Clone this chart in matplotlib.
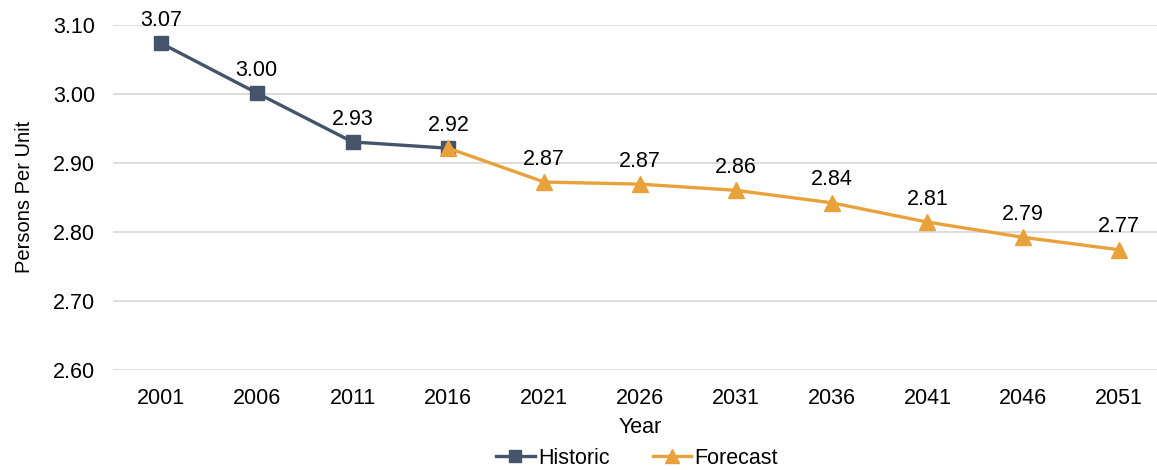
import matplotlib.pyplot as plt
from matplotlib.lines import Line2D

plt.rcParams['font.family'] = ['Liberation Sans', 'DejaVu Sans']

years = ['2001', '2006', '2011', '2016', '2021', '2026', '2031', '2036', '2041', '2046', '2051']
historic = [3.073, 3.001, 2.930, 2.921]
forecast = [2.921, 2.872, 2.869, 2.860, 2.842, 2.814, 2.792, 2.774]
y_ticks = [2.60, 2.70, 2.80, 2.90, 3.00, 3.10]

hist_color = '#44546A'
fc_color = '#E9A13B'
fs = 15.5

W, H = 1157, 470
fig = plt.figure(figsize=(W / 100, H / 100), dpi=100)
ax_w = 1167 - 113
ax = fig.add_axes([113 / W, 100 / H, ax_w / W, 345.5 / H])

x = list(range(len(years)))
hist_x = x[:len(historic)]
fc_x = x[len(historic) - 1:]

ax.plot(hist_x, historic, color=hist_color, lw=2.4, marker='s', ms=10, zorder=3)
ax.plot(fc_x, forecast, color=fc_color, lw=2.4, marker='^', ms=11, zorder=4)

labels = list(zip(hist_x, historic)) + list(zip(fc_x[1:], forecast[1:]))
for xi, v in labels:
    ax.annotate(f'{v:.2f}', (xi, v), xytext=(0, 12.5), textcoords='offset points',
                ha='center', va='baseline', fontsize=fs, color='black')

ax.set_xlim(-0.5, len(years) - 0.5)
ax.set_ylim(2.60, 3.10)
ax.set_yticks(y_ticks)
ax.set_yticklabels([f'{t:.2f}' for t in y_ticks])
ax.set_xticks(x)
ax.set_xticklabels(years)
ax.tick_params(axis='both', length=0, labelsize=fs)
ax.tick_params(axis='x', pad=13)
ax.tick_params(axis='y', pad=13)
ax.grid(axis='y', color='#D9D9D9', lw=1.3)
ax.set_axisbelow(True)
for s in ax.spines.values():
    s.set_visible(False)

ax.set_xlabel('Year', fontsize=fs, labelpad=6)
ax.set_ylabel('Persons Per Unit', fontsize=14.5)
ax.yaxis.set_label_coords(-79 / ax_w, 0.5)

handles = [
    Line2D([], [], color=hist_color, lw=2.4, marker='s', ms=9),
    Line2D([], [], color=fc_color, lw=2.4, marker='^', ms=10),
]
fig.legend(handles, ['Historic', 'Forecast'], loc='center', bbox_to_anchor=(637 / W, 1 - 458 / H),
           ncol=2, frameon=False, fontsize=fs, handlelength=1.8, handletextpad=0.15,
           columnspacing=2.0, borderaxespad=0)

fig.savefig('out.png', dpi=100)
